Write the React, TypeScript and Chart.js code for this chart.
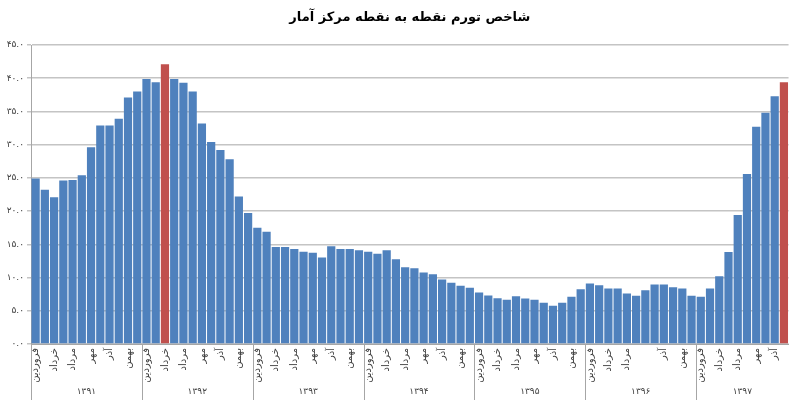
import React, { useEffect, useRef } from "react";
import { Chart, registerables } from "chart.js";

Chart.register(...registerables);

const title = "شاخص تورم نقطه به نقطه مرکز آمار";
const months = ["فروردین", "اردیبهشت", "خرداد", "تیر", "مرداد", "شهریور", "مهر", "آبان", "آذر", "دی", "بهمن", "اسفند"];
const years = ["۱۳۹۱", "۱۳۹۲", "۱۳۹۳", "۱۳۹۴", "۱۳۹۵", "۱۳۹۶", "۱۳۹۷"];
const monthsPerYear = [12, 12, 12, 12, 12, 12, 10];

const values1391 = [24.9, 23.2, 22.1, 24.6, 24.7, 25.4, 29.6, 32.9, 32.9, 33.9, 37.1, 38.0];
const values1392 = [39.9, 39.4, 42.1, 39.9, 39.3, 38.0, 33.2, 30.4, 29.2, 27.8, 22.2, 19.7];
const values1393 = [17.5, 16.9, 14.6, 14.6, 14.3, 13.9, 13.75, 13.0, 14.7, 14.3, 14.3, 14.1];
const values1394 = [13.9, 13.6, 14.1, 12.75, 11.55, 11.4, 10.75, 10.5, 9.7, 9.2, 8.75, 8.45];
const values1395 = [7.75, 7.3, 6.9, 6.65, 7.2, 6.85, 6.65, 6.2, 5.75, 6.2, 7.1, 8.25];
const values1396 = [9.1, 8.85, 8.35, 8.35, 7.6, 7.25, 8.1, 8.95, 8.95, 8.55, 8.35, 7.25];
const values1397 = [7.1, 8.35, 10.2, 13.85, 19.4, 25.6, 32.7, 34.8, 37.3, 39.4];

// indices of highlighted (red) bars, and month ticks left unlabeled in the original
const highlighted = [14, 81];
const hiddenTicks = [66];

const BLUE = "#4F81BD";
const RED = "#C0504D";
const FONT = "'DejaVu Sans', sans-serif";

const persianDigits = "۰۱۲۳۴۵۶۷۸۹";
const toPersian = (s: string) => s.replace(/[0-9]/g, (d) => persianDigits[Number(d)]);

const values = [
  ...values1391, ...values1392, ...values1393, ...values1394,
  ...values1395, ...values1396, ...values1397,
];
const labels: string[] = [];
const monthIndex: number[] = [];
monthsPerYear.forEach((n, y) => {
  for (let m = 0; m < n; m++) {
    labels.push(months[m] + " " + years[y]);
    monthIndex.push(m);
  }
});

const yearGroups = {
  id: "yearGroups",
  afterDraw(chart: any) {
    const x = chart.scales.x;
    const { bottom } = chart.chartArea;
    const ctx = chart.ctx;
    const half = (x.getPixelForValue(1) - x.getPixelForValue(0)) / 2;
    ctx.save();
    ctx.strokeStyle = "#a6a6a6";
    ctx.lineWidth = 1;
    ctx.fillStyle = "#404040";
    ctx.font = "9px " + FONT;
    ctx.textAlign = "center";
    ctx.textBaseline = "middle";
    let start = 0;
    monthsPerYear.forEach((n, y) => {
      const left = Math.round(x.getPixelForValue(start) - half) + 0.5;
      ctx.beginPath();
      ctx.moveTo(left, bottom);
      ctx.lineTo(left, bottom + 56);
      ctx.stroke();
      const cx = (x.getPixelForValue(start) + x.getPixelForValue(start + n - 1)) / 2;
      ctx.fillText(years[y], cx, bottom + 48);
      start += n;
    });
    ctx.restore();
  },
};

export default function App() {
  const ref = useRef<HTMLCanvasElement>(null);
  useEffect(() => {
    if (!ref.current) return;
    const chart = new Chart(ref.current, {
      type: "bar",
      data: {
        labels,
        datasets: [
          {
            data: values,
            backgroundColor: values.map((_, i) => (highlighted.includes(i) ? RED : BLUE)),
            borderWidth: 0,
            barPercentage: 0.89,
            categoryPercentage: 1,
          },
        ],
      },
      options: {
        animation: false,
        responsive: true,
        maintainAspectRatio: false,
        layout: { padding: { top: 0, right: 3, bottom: 0, left: 0 } },
        plugins: {
          legend: { display: false },
          tooltip: { enabled: false },
          title: {
            display: true,
            text: title,
            fullSize: false,
            color: "#000",
            font: { family: FONT, size: 13, weight: "bold" },
            padding: { top: 10, bottom: 19.4 },
          },
        },
        scales: {
          x: {
            grid: { display: false, drawTicks: false },
            border: { display: true, color: "#a6a6a6", width: 1 },
            ticks: {
              autoSkip: false,
              minRotation: 90,
              maxRotation: 90,
              padding: 4,
              color: "#404040",
              font: { family: FONT, size: 10 },
              callback: (_v: any, i: number) => {
                const m = monthIndex[i];
                if (m % 2 !== 0 || hiddenTicks.includes(i)) return "";
                return months[m];
              },
            },
            afterFit: (s: any) => {
              s.height = 60;
            },
          },
          y: {
            min: 0,
            max: 45,
            grid: { color: "#c4c4c4", lineWidth: 1.5, tickLength: 4 },
            border: { display: true, color: "#a6a6a6", width: 1 },
            ticks: {
              stepSize: 5,
              padding: 3,
              color: "#404040",
              font: { family: FONT, size: 9 },
              callback: (v: any) => toPersian(Number(v).toFixed(1)),
            },
            afterFit: (s: any) => {
              s.width = 31;
            },
          },
        },
      },
      plugins: [yearGroups],
    });
    return () => chart.destroy();
  }, []);
  return (
    <div style={{ position: "absolute", left: 0, top: 0, width: 800, height: 404, background: "#fff" }}>
      <canvas ref={ref} />
    </div>
  );
}
